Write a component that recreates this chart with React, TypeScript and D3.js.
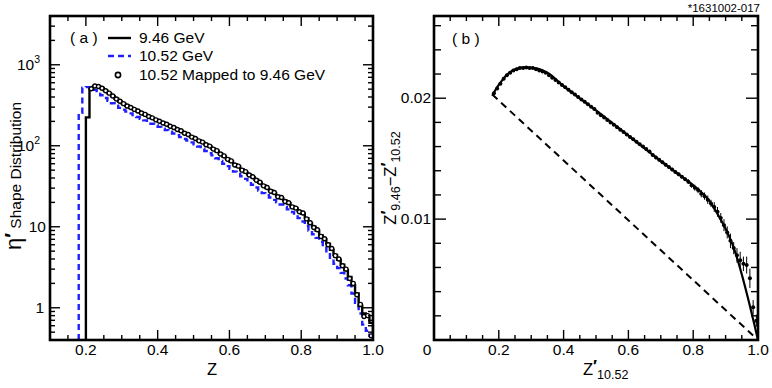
import * as d3 from 'd3'

// histogram bins are 0.01 wide
const BIN_W = 0.01

// (a) eta' shape distribution at 9.46 GeV, bins from z = 0.20
const start946 = 0.2
const shape946 = [
  224, 500, 545, 540, 515, 480, 445, 410, 380, 352,
  330, 312, 296, 282, 268, 255, 243, 231, 220, 210,
  200, 192, 183, 175, 167, 160, 152, 144, 137, 129,
  122, 116, 110, 104, 98, 92, 86, 80, 74, 69,
  64, 59, 55, 51, 47, 44, 41, 38, 35, 32.5,
  30, 28, 26, 24, 22.5, 21, 19.5, 18, 16.8, 15.6,
  14.5, 12.8, 11, 10, 9, 7.8, 7, 6.2, 5.2, 4.5,
  3.9, 3.4, 2.9, 2.4, 1.9, 1.5, 1.05, 0.85, 0.8, 0.65,
]

// (a) 10.52 GeV, bins from z = 0.18
const start1052 = 0.18
const shape1052 = [
  255, 520, 530, 515, 490, 455, 420, 388, 360, 335,
  312, 294, 278, 264, 251, 239, 227, 216, 206, 196,
  187, 179, 171, 163, 156, 149, 142, 135, 128, 121,
  116, 110, 104, 98, 92, 86, 81, 76, 70, 65,
  60, 56, 52, 48, 45, 42, 39, 36, 33, 30.5,
  28, 26, 24.5, 23, 21.5, 20, 18.8, 17.6, 16.4, 15.2,
  14, 12.8, 11.6, 10.2, 9, 8.1, 7.3, 6.5, 5.7, 4.8,
  4.0, 3.5, 3.1, 2.7, 2.3, 1.9, 1.5, 1.15, 0.85, 0.62,
  0.52, 0.45,
]

// (a) 10.52 mapped to 9.46, at bin centres from 0.215
const startMapped = 0.215
const mapped = [
  505, 548, 538, 512, 478, 446, 412, 378, 354,
  331, 310, 297, 281, 269, 254, 244, 230, 221, 209,
  201, 191, 184, 174, 168, 159, 153, 143, 138, 128,
  123, 115, 111, 103, 99, 91, 87, 79, 75, 68,
  65, 58, 56, 50, 48, 43.5, 41.5, 37.5, 35.5, 32,
  30.5, 27.5, 26.5, 23.5, 23, 20.5, 19.8, 17.6, 17, 15.3,
  14.8, 12.5, 11.2, 9.8, 9.2, 7.6, 7.1, 6.0, 5.4, 4.4,
  4.0, 3.3, 3.0, 2.3, 2.0, 1.45, 1.1, 0.78, 0.8, 0.45,
]

// (b) Z'9.46 - Z'10.52 vs Z'10.52, points from 0.185
const startDiff = 0.185
const diffVals = [
  0.0204, 0.0208, 0.0212, 0.0216, 0.0219, 0.0221, 0.0223, 0.0224, 0.0225, 0.0225,
  0.02255, 0.0225, 0.0225, 0.0224, 0.0223, 0.0222, 0.0221, 0.0219, 0.0217, 0.0215,
  0.0213, 0.0211, 0.0209, 0.0207, 0.0205, 0.0203, 0.0201, 0.0199, 0.0197, 0.0195,
  0.0193, 0.0191, 0.0188, 0.0186, 0.0184, 0.0182, 0.018, 0.0178, 0.0176, 0.0174,
  0.0172, 0.017, 0.0168, 0.0166, 0.0164, 0.0162, 0.016, 0.0158, 0.0156, 0.0153,
  0.0151, 0.0149, 0.0147, 0.0145, 0.0143, 0.0141, 0.0139, 0.0137, 0.0135, 0.0133,
  0.0131, 0.0128, 0.0126, 0.0124, 0.0121, 0.0119, 0.0116, 0.0113, 0.011, 0.0106,
  0.0101, 0.0095, 0.0089, 0.0082, 0.0076, 0.007, 0.0066, 0.0063, 0.0062, 0.0051,
  0.0027, 0.0016,
]
const diffErr = [
  0.0001, 0.0001, 0.0001, 0.0001, 0.0001, 0.0001, 0.0001, 0.0001, 0.0001, 0.0001,
  0.0001, 0.0001, 0.0001, 0.0001, 0.0001, 0.0001, 0.0001, 0.0001, 0.0001, 0.0001,
  0.0001, 0.0001, 0.0001, 0.0001, 0.0001, 0.0001, 0.0001, 0.0001, 0.0001, 0.0001,
  0.0001, 0.0001, 0.0001, 0.0001, 0.0001, 0.0001, 0.0001, 0.0001, 0.0001, 0.0001,
  0.00012, 0.00012, 0.00012, 0.00012, 0.00012, 0.00012, 0.00012, 0.00012, 0.00012, 0.00012,
  0.00015, 0.00015, 0.00015, 0.00015, 0.00015, 0.00015, 0.00015, 0.00015, 0.00015, 0.00015,
  0.0002, 0.0002, 0.00025, 0.00025, 0.0003, 0.0003, 0.00035, 0.0003, 0.0004, 0.0004,
  0.0004, 0.0005, 0.0005, 0.0006, 0.0005, 0.0006, 0.0007, 0.0006, 0.0007, 0.0008,
  0.0006, 0.0005,
]

// (b) fitted curve and the straight reference line
const fitX = [0.18, 0.19, 0.2, 0.22, 0.25, 0.28, 0.31, 0.35, 0.4, 0.5, 0.6, 0.7, 0.75, 0.8, 0.85, 0.88, 0.9, 0.92, 1.0]
const fitY = [0.0202, 0.0207, 0.0211, 0.0218, 0.0224, 0.02255, 0.0225, 0.0221, 0.021, 0.019, 0.0169, 0.0148, 0.0138, 0.0128, 0.0115, 0.0102, 0.0092, 0.008, 0.0]
const refX = [0.18, 1.0]
const refY = [0.0203, 0.0]

const xTickLabelsA = [0.2, 0.4, 0.6, 0.8, 1.0]
const xTickLabelsB = [0.2, 0.4, 0.6, 0.8, 1.0]
const yTickLabelsB = [0.01, 0.02]

const FONT = 'Liberation Sans, Arial, Helvetica, sans-serif'
const BLUE = '#1f1fff'
const TICK_FS = 15.5
const LEG_FS = 15.5

function App() {
  const A = { x0: 50, x1: 373, y0: 16, y1: 340 }
  const B = { x0: 434, x1: 758, y0: 16, y1: 340 }

  const xA = d3.scaleLinear().domain([0.1, 1.0]).range([A.x0, A.x1])
  const yA = d3.scaleLog().domain([0.4, 4000]).range([A.y1, A.y0])
  const xB = d3.scaleLinear().domain([0, 1]).range([B.x0, B.x1])
  const yB = d3.scaleLinear().domain([0, 0.0268]).range([B.y1, B.y0])

  const stepLine = d3
    .line<[number, number]>()
    .x((d) => xA(d[0]))
    .y((d) => yA(d[1]))
    .curve(d3.curveStepAfter)

  const stepPts = (start: number, vals: number[]): [number, number][] => {
    const end = start + vals.length * BIN_W
    const floor = yA.domain()[0]
    return [
      [start, floor],
      ...vals.map((v, i) => [start + i * BIN_W, v] as [number, number]),
      [end, vals[vals.length - 1]],
      [end, floor],
    ]
  }

  const fitLine = d3
    .line<number>()
    .x((d, i) => xB(fitX[i]))
    .y((d) => yB(d))
    .curve(d3.curveMonotoneX)

  // ---- ticks ----
  const ticksA: JSX.Element[] = []
  const ticksB: JSX.Element[] = []
  const tk = (arr: JSX.Element[], key: string, x1: number, y1: number, x2: number, y2: number) =>
    arr.push(<line key={key} x1={x1} y1={y1} x2={x2} y2={y2} stroke="#000" strokeWidth={1.4} />)

  // left panel x ticks
  d3.range(0.1, 1.0001, 0.05).forEach((v, i) => {
    const major = i % 4 === 2
    const len = major ? 10 : 5
    const x = xA(v)
    tk(ticksA, `ab${i}`, x, A.y1, x, A.y1 - len)
    tk(ticksA, `at${i}`, x, A.y0, x, A.y0 + len)
  })
  // left panel log y ticks
  ;[0.1, 1, 10, 100, 1000].forEach((dec) => {
    for (let k = 1; k <= 9; k++) {
      const v = dec * k
      if (v < 0.4 || v > 4000) continue
      const len = k === 1 ? 10 : 5
      const y = yA(v)
      tk(ticksA, `al${v}`, A.x0, y, A.x0 + len, y)
      tk(ticksA, `ar${v}`, A.x1, y, A.x1 - len, y)
    }
  })
  // right panel x ticks
  d3.range(0, 1.0001, 0.05).forEach((v, i) => {
    const len = i % 4 === 0 ? 10 : 5
    const x = xB(v)
    tk(ticksB, `bb${i}`, x, B.y1, x, B.y1 - len)
    tk(ticksB, `bt${i}`, x, B.y0, x, B.y0 + len)
  })
  // right panel y ticks
  d3.range(0, 0.0268, 0.002).forEach((v, i) => {
    const len = i % 5 === 0 ? 12 : 7
    const y = yB(v)
    tk(ticksB, `bl${i}`, B.x0, y, B.x0 + len, y)
    tk(ticksB, `br${i}`, B.x1, y, B.x1 - len, y)
  })

  const yLabelsA = [
    { v: 1, base: '1', sup: '', x: 44 },
    { v: 10, base: '10', sup: '', x: 46 },
    { v: 100, base: '10', sup: '2', x: 40 },
    { v: 1000, base: '10', sup: '3', x: 40 },
  ]

  return (
    <svg
      width={772}
      height={388}
      style={{ position: 'absolute', left: 0, top: 0, background: '#fff' }}
      fontFamily={FONT}
    >
      <defs>
        <clipPath id="clipA">
          <rect x={A.x0} y={A.y0} width={A.x1 - A.x0} height={A.y1 - A.y0} />
        </clipPath>
        <clipPath id="clipB">
          <rect x={B.x0} y={B.y0} width={B.x1 - B.x0} height={B.y1 - B.y0} />
        </clipPath>
      </defs>
      <rect width={772} height={388} fill="#fff" />

      {/* ---------- panel (a) ---------- */}
      <g clipPath="url(#clipA)">
        <path
          d={stepLine(stepPts(start1052, shape1052)) || ''}
          fill="none"
          stroke={BLUE}
          strokeWidth={2.4}
          strokeDasharray="6,4"
        />
        <path d={stepLine(stepPts(start946, shape946)) || ''} fill="none" stroke="#000" strokeWidth={2.4} />
        {mapped.map((v, i) => (
          <circle
            key={i}
            cx={xA(startMapped + i * BIN_W)}
            cy={yA(v)}
            r={2}
            fill="#fff"
            stroke="#000"
            strokeWidth={1.4}
          />
        ))}
      </g>
      {ticksA}
      <rect x={A.x0} y={A.y0} width={A.x1 - A.x0} height={A.y1 - A.y0} fill="none" stroke="#000" strokeWidth={2.6} />

      {xTickLabelsA.map((v) => (
        <text key={v} x={xA(v)} y={355} fontSize={TICK_FS} textAnchor="middle">
          {v.toFixed(1)}
        </text>
      ))}
      {yLabelsA.map((d) => (
        <text key={d.v} x={d.x} y={yA(d.v) + 5} fontSize={TICK_FS} textAnchor="end">
          {d.base}
          {d.sup && (
            <tspan fontSize={10.5} dy={-7}>
              {d.sup}
            </tspan>
          )}
        </text>
      ))}
      <text x={212} y={375} fontSize={16.5} textAnchor="middle">
        Z
      </text>
      <text transform="translate(21,176) rotate(-90)" textAnchor="middle">
        <tspan fontSize={22}>η</tspan>
        <tspan fontSize={20} fontWeight="bold" dy={-2}>
          ′
        </tspan>
        <tspan fontSize={15.5} dy={2}>
          {' '}Shape Distribution
        </tspan>
      </text>

      {/* legend */}
      <text x={70} y={43} fontSize={LEG_FS}>
        ( a )
      </text>
      <line x1={108} y1={38} x2={131} y2={38} stroke="#000" strokeWidth={2.4} />
      <text x={139} y={43} fontSize={LEG_FS}>
        9.46 GeV
      </text>
      <line x1={108} y1={56} x2={131} y2={56} stroke={BLUE} strokeWidth={2.4} strokeDasharray="6,4" />
      <text x={139} y={61} fontSize={LEG_FS}>
        10.52 GeV
      </text>
      <circle cx={118} cy={75} r={2.6} fill="#fff" stroke="#000" strokeWidth={1.6} />
      <text x={139} y={80} fontSize={LEG_FS}>
        10.52 Mapped to 9.46 GeV
      </text>

      {/* ---------- panel (b) ---------- */}
      <g clipPath="url(#clipB)">
        <line
          x1={xB(refX[0])}
          y1={yB(refY[0])}
          x2={xB(refX[1])}
          y2={yB(refY[1])}
          stroke="#000"
          strokeWidth={2}
          strokeDasharray="7,5"
        />
        <path d={fitLine(fitY) || ''} fill="none" stroke="#000" strokeWidth={2.2} />
        {diffVals.map((v, i) => {
          const x = xB(startDiff + i * BIN_W)
          return (
            <g key={i}>
              <line x1={x} x2={x} y1={yB(v - diffErr[i])} y2={yB(v + diffErr[i])} stroke="#000" strokeWidth={1} />
              <line
                x1={xB(startDiff + i * BIN_W - BIN_W / 2)}
                x2={xB(startDiff + i * BIN_W + BIN_W / 2)}
                y1={yB(v)}
                y2={yB(v)}
                stroke="#000"
                strokeWidth={1}
              />
              <circle cx={x} cy={yB(v)} r={2} fill="#000" />
            </g>
          )
        })}
      </g>
      {ticksB}
      <rect x={B.x0} y={B.y0} width={B.x1 - B.x0} height={B.y1 - B.y0} fill="none" stroke="#000" strokeWidth={2.6} />

      <text x={427} y={355} fontSize={TICK_FS} textAnchor="middle">
        0
      </text>
      {xTickLabelsB.map((v) => (
        <text key={v} x={xB(v)} y={355} fontSize={TICK_FS} textAnchor="middle">
          {v.toFixed(1)}
        </text>
      ))}
      {yTickLabelsB.map((v) => (
        <text key={v} x={431} y={yB(v) + 5} fontSize={TICK_FS} textAnchor="end">
          {v.toFixed(2)}
        </text>
      ))}
      <text x={452} y={44} fontSize={LEG_FS}>
        ( b )
      </text>
      <text x={583} y={375} fontSize={16.5}>
        Z
        <tspan fontWeight="bold" dy={-3}>
          ′
        </tspan>
        <tspan fontSize={12.5} dy={7}>
          10.52
        </tspan>
      </text>
      <text transform="translate(396,178) rotate(-90)" textAnchor="middle" fontSize={16.5}>
        Z
        <tspan fontWeight="bold" dy={-3}>
          ′
        </tspan>
        <tspan fontSize={12.5} dy={7}>
          9.46
        </tspan>
        <tspan dy={-4}>−Z</tspan>
        <tspan fontWeight="bold" dy={-3}>
          ′
        </tspan>
        <tspan fontSize={12.5} dy={7}>
          10.52
        </tspan>
      </text>

      <text x={760} y={12} fontSize={11.5} textAnchor="end">
        *1631002-017
      </text>
    </svg>
  )
}

export default App
